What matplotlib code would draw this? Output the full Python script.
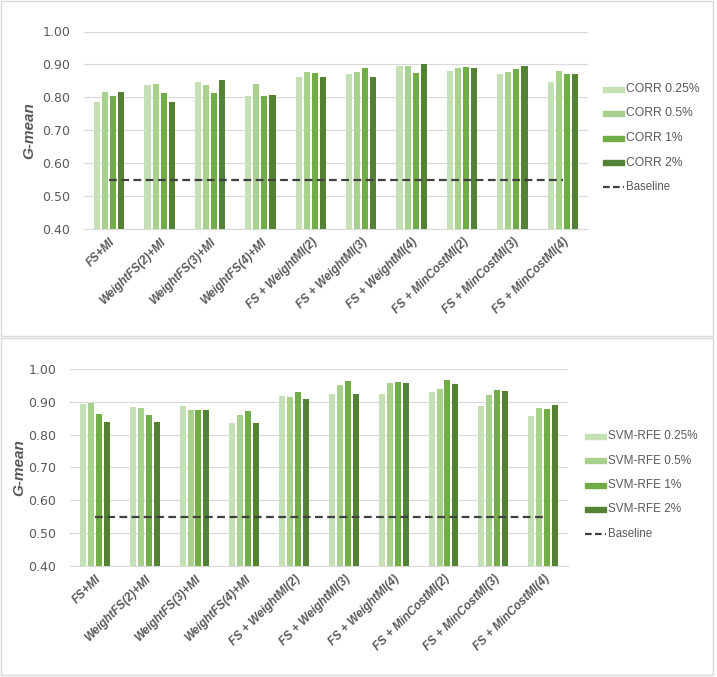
import numpy as np
import matplotlib.pyplot as plt
from matplotlib.patches import Rectangle
from matplotlib.lines import Line2D

methods = ['FS+MI', 'WeightFS(2)+MI', 'WeightFS(3)+MI', 'WeightFS(4)+MI',
           'FS + WeightMI(2)', 'FS + WeightMI(3)', 'FS + WeightMI(4)',
           'FS + MinCostMI(2)', 'FS + MinCostMI(3)', 'FS + MinCostMI(4)']
pcts = ['0.25%', '0.5%', '1%', '2%']

corr_025 = [0.786, 0.836, 0.846, 0.804, 0.861, 0.870, 0.895, 0.881, 0.871, 0.848]
corr_05 = [0.816, 0.840, 0.838, 0.841, 0.877, 0.877, 0.895, 0.889, 0.877, 0.879]
corr_1 = [0.805, 0.813, 0.813, 0.804, 0.873, 0.889, 0.873, 0.893, 0.886, 0.872]
corr_2 = [0.816, 0.786, 0.853, 0.807, 0.861, 0.862, 0.902, 0.888, 0.896, 0.872]

svm_025 = [0.894, 0.883, 0.886, 0.837, 0.918, 0.924, 0.924, 0.929, 0.888, 0.858]
svm_05 = [0.895, 0.880, 0.874, 0.859, 0.916, 0.952, 0.958, 0.939, 0.921, 0.882]
svm_1 = [0.864, 0.859, 0.876, 0.872, 0.931, 0.962, 0.961, 0.967, 0.936, 0.879]
svm_2 = [0.840, 0.840, 0.874, 0.835, 0.908, 0.924, 0.958, 0.955, 0.934, 0.891]

baseline = [0.55] * len(methods)

colors = ['#c5e0b4', '#a9d18e', '#70ad47', '#548235']
txt = '#595959'


def draw(ax, series, prefix, leg_x, leg_y0, leg_fs, ypad):
    x = np.arange(len(methods))
    for i, vals in enumerate(series):
        ax.bar(x + (i - 1.5) * 0.16, vals, width=0.12, color=colors[i], zorder=3)
    ax.plot(x, baseline, color='#404040', ls=(0, (3.5, 2)), lw=1.6, zorder=4)
    ax.set_ylim(0.4, 1.0)
    ax.set_xlim(-0.5, len(methods) - 0.5)
    ax.set_yticks(np.arange(0.4, 1.01, 0.1))
    ax.set_yticklabels([f'{v:.2f}' for v in np.arange(0.4, 1.01, 0.1)],
                       fontsize=9, color=txt)
    ax.set_xticks(x)
    ax.set_xticklabels(methods, rotation=45, ha='right', rotation_mode='anchor',
                       fontsize=8.5, fontweight='bold', fontstyle='italic',
                       color=txt, family='Liberation Sans')
    ax.tick_params(axis='x', length=0, pad=5)
    ax.tick_params(axis='y', length=0, pad=10)
    ax.grid(axis='y', color='#d9d9d9', lw=0.8, zorder=0)
    for s in ['top', 'right', 'left']:
        ax.spines[s].set_visible(False)
    ax.spines['bottom'].set_color('#d9d9d9')
    ax.set_ylabel('G-mean', fontsize=11, fontweight='bold', fontstyle='italic',
                  color=txt, family='Liberation Sans', labelpad=ypad)

    # legend, placed in pixels
    H = 677
    for i in range(5):
        yc = 1 - (leg_y0 + i * 24.5) / H
        if i < 4:
            fig.patches.append(Rectangle((leg_x / 717, yc - 2.5 / H), 21 / 717, 5 / H,
                                         transform=fig.transFigure, color=colors[i]))
            label = f'{prefix} {pcts[i]}'
        else:
            fig.lines.append(Line2D([leg_x / 717, (leg_x + 21) / 717], [yc, yc],
                                    transform=fig.transFigure, color='#404040',
                                    ls=(0, (3, 1.5)), lw=1.6))
            label = 'Baseline'
        fig.text((leg_x + 23) / 717, yc, label, fontsize=leg_fs if i < 4 else 8.3,
                 color=txt, va='center', ha='left', family='Liberation Sans')


fig = plt.figure(figsize=(7.17, 6.77), dpi=100)

# panel frames
fig.patches.append(Rectangle((0.002, 1 - 336 / 677), 0.993, 335 / 677,
                             transform=fig.transFigure, fill=False,
                             ec='#d9d9d9', lw=1))
fig.patches.append(Rectangle((0.002, 0.003), 0.993, 337 / 677,
                             transform=fig.transFigure, fill=False,
                             ec='#d9d9d9', lw=1))

ax1 = fig.add_axes([84 / 717, 1 - 229 / 677, (588 - 84) / 717, (229 - 31.5) / 677])
draw(ax1, [corr_025, corr_05, corr_1, corr_2], 'CORR', 603, 89, 8.7, 4)

ax2 = fig.add_axes([70 / 717, 1 - 566 / 677, (568 - 70) / 717, (566 - 369) / 677])
draw(ax2, [svm_025, svm_05, svm_1, svm_2], 'SVM-RFE', 585, 436, 8.5, 1)

fig.savefig('out.png', dpi=100)
